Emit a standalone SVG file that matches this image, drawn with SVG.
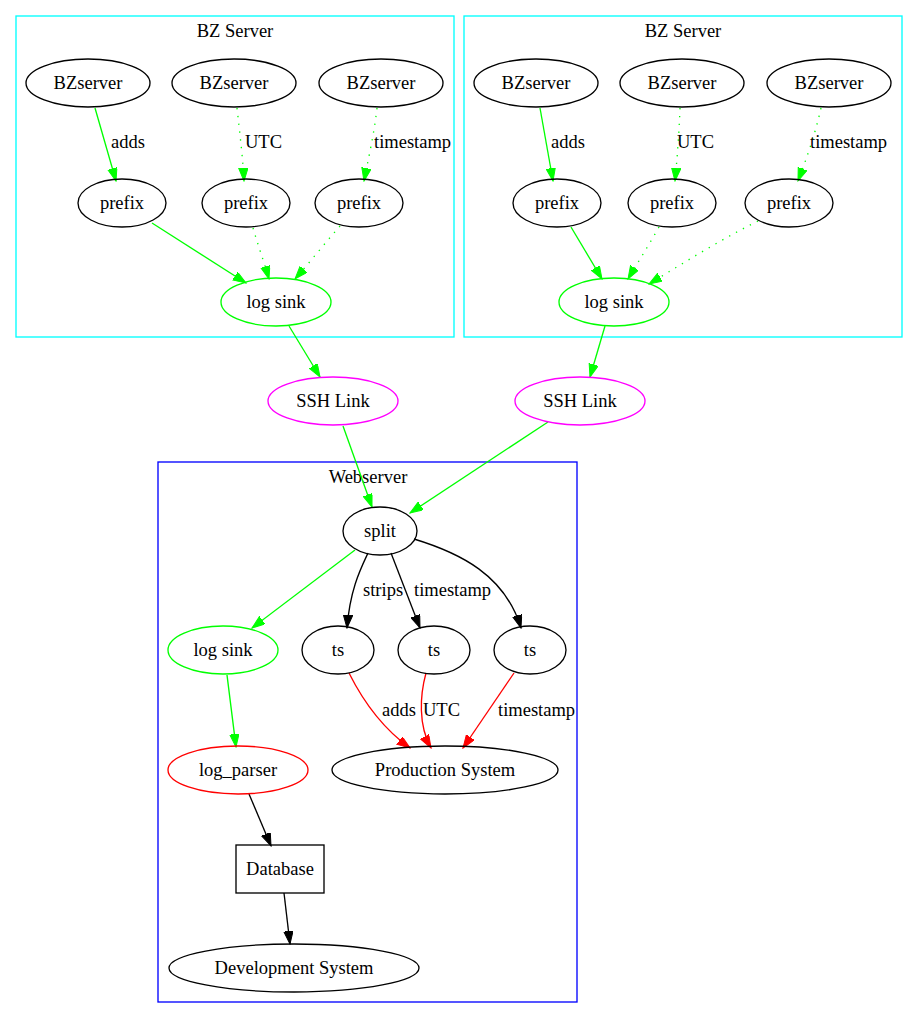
<svg xmlns="http://www.w3.org/2000/svg" width="917" height="1029" viewBox="0 0 917 1029">
<style>
text{font-family:"Liberation Serif","Times New Roman",serif;font-size:18.5px;fill:#000}
.c{text-anchor:middle}
.n{fill:none;stroke:#000;stroke-width:1.33}
.e{fill:none;stroke-width:1.33}
.g{stroke:#00ff00}
.k{stroke:#000}
.r{stroke:#ff0000}
.d{stroke-dasharray:1.33,6.5}
</style>
<defs>
<marker id="ag" markerUnits="userSpaceOnUse" markerWidth="14" markerHeight="10" refX="13" refY="4.7" orient="auto"><path d="M0,0 L13,4.7 L0,9.4 z" fill="#00ff00" stroke="#00ff00" stroke-width="1"/></marker>
<marker id="ak" markerUnits="userSpaceOnUse" markerWidth="14" markerHeight="10" refX="13" refY="4.7" orient="auto"><path d="M0,0 L13,4.7 L0,9.4 z" fill="#000" stroke="#000" stroke-width="1"/></marker>
<marker id="ar" markerUnits="userSpaceOnUse" markerWidth="14" markerHeight="10" refX="13" refY="4.7" orient="auto"><path d="M0,0 L13,4.7 L0,9.4 z" fill="#ff0000" stroke="#ff0000" stroke-width="1"/></marker>
</defs>
<rect width="917" height="1029" fill="#fff"/>
<g id="cluster_bz1"><rect x="16" y="16" width="438" height="321" fill="none" stroke="#00ffff" stroke-width="1.33"/><text class="c" x="235" y="37">BZ Server</text></g>
<g id="cluster_bz2"><rect x="464" y="16" width="438" height="321" fill="none" stroke="#00ffff" stroke-width="1.33"/><text class="c" x="683" y="37">BZ Server</text></g>
<g id="cluster_web"><rect x="158" y="462" width="419" height="540" fill="none" stroke="#0000ff" stroke-width="1.33"/><text class="c" x="368" y="483">Webserver</text></g>
<g id="connectors">
<path class="e g" d="M95,108 L116,181" marker-end="url(#ag)"/>
<path class="e g d" d="M237,108 C240,135 243,160 244,181" marker-end="url(#ag)"/>
<path class="e g d" d="M377,108 C374,135 368,160 364,181" marker-end="url(#ag)"/>
<path class="e g" d="M152,223 L246,283" marker-end="url(#ag)"/>
<path class="e g d" d="M253,228 C258,245 264,262 269,279" marker-end="url(#ag)"/>
<path class="e g d" d="M340,226 C325,243 310,262 295,279" marker-end="url(#ag)"/>
<path class="e g" d="M540,108 L553,181" marker-end="url(#ag)"/>
<path class="e g d" d="M680,108 C679,135 677,160 675,181" marker-end="url(#ag)"/>
<path class="e g d" d="M821,108 C815,135 806,160 798,181" marker-end="url(#ag)"/>
<path class="e g" d="M571,227 L602,279" marker-end="url(#ag)"/>
<path class="e g d" d="M659,227 C649,245 638,262 628,279" marker-end="url(#ag)"/>
<path class="e g d" d="M758,221 C720,240 685,262 649,284" marker-end="url(#ag)"/>
<path class="e g" d="M289,326 L320,377" marker-end="url(#ag)"/>
<path class="e g" d="M605,326 L590,377" marker-end="url(#ag)"/>
<path class="e g" d="M343,426 L372,507" marker-end="url(#ag)"/>
<path class="e g" d="M548,422 L410,513" marker-end="url(#ag)"/>
<path class="e g" d="M355,550 L252,628" marker-end="url(#ag)"/>
<path class="e k" d="M368,553 C360,570 350,590 347,628" marker-end="url(#ak)"/>
<path class="e k" d="M391,553 L420,628" marker-end="url(#ak)"/>
<path class="e k" d="M414,539 C460,553 505,575 521,628" marker-end="url(#ak)"/>
<path class="e r" d="M349,673 C365,705 385,730 410,748" marker-end="url(#ar)"/>
<path class="e r" d="M426,673 C420,695 418,725 431,748" marker-end="url(#ar)"/>
<path class="e r" d="M514,673 L463,748" marker-end="url(#ar)"/>
<path class="e g" d="M227,675 L236,747" marker-end="url(#ag)"/>
<path class="e k" d="M249,794 L271,846" marker-end="url(#ak)"/>
<path class="e k" d="M284,893 L290,944" marker-end="url(#ak)"/>
<text x="111" y="148">adds</text>
<text x="245" y="148">UTC</text>
<text x="374" y="148">timestamp</text>
<text x="551" y="148">adds</text>
<text x="677" y="148">UTC</text>
<text x="810" y="148">timestamp</text>
<text x="363" y="596">strips</text>
<text x="414" y="596">timestamp</text>
<text x="382" y="716">adds</text>
<text x="423" y="716">UTC</text>
<text x="498" y="716">timestamp</text>
</g>
<g id="bz1_s1"><ellipse class="n" cx="88" cy="83" rx="62" ry="24"/><text class="c" x="88" y="89">BZserver</text></g>
<g id="bz1_s2"><ellipse class="n" cx="234" cy="83" rx="62" ry="24"/><text class="c" x="234" y="89">BZserver</text></g>
<g id="bz1_s3"><ellipse class="n" cx="381" cy="83" rx="62" ry="24"/><text class="c" x="381" y="89">BZserver</text></g>
<g id="bz1_p1"><ellipse class="n" cx="122" cy="203" rx="44" ry="24"/><text class="c" x="122" y="209">prefix</text></g>
<g id="bz1_p2"><ellipse class="n" cx="246" cy="203" rx="44" ry="24"/><text class="c" x="246" y="209">prefix</text></g>
<g id="bz1_p3"><ellipse class="n" cx="359" cy="203" rx="44" ry="24"/><text class="c" x="359" y="209">prefix</text></g>
<g id="bz1_sink"><ellipse class="n" style="stroke:#00ff00" cx="276" cy="302" rx="55" ry="24"/><text class="c" x="276" y="308">log sink</text></g>
<g id="bz2_s1"><ellipse class="n" cx="536" cy="83" rx="62" ry="24"/><text class="c" x="536" y="89">BZserver</text></g>
<g id="bz2_s2"><ellipse class="n" cx="682" cy="83" rx="62" ry="24"/><text class="c" x="682" y="89">BZserver</text></g>
<g id="bz2_s3"><ellipse class="n" cx="829" cy="83" rx="62" ry="24"/><text class="c" x="829" y="89">BZserver</text></g>
<g id="bz2_p1"><ellipse class="n" cx="557" cy="203" rx="44" ry="24"/><text class="c" x="557" y="209">prefix</text></g>
<g id="bz2_p2"><ellipse class="n" cx="672" cy="203" rx="44" ry="24"/><text class="c" x="672" y="209">prefix</text></g>
<g id="bz2_p3"><ellipse class="n" cx="789" cy="203" rx="44" ry="24"/><text class="c" x="789" y="209">prefix</text></g>
<g id="bz2_sink"><ellipse class="n" style="stroke:#00ff00" cx="614" cy="302" rx="55" ry="24"/><text class="c" x="614" y="308">log sink</text></g>
<g id="ssh1"><ellipse class="n" style="stroke:#ff00ff" cx="333" cy="401" rx="65" ry="24"/><text class="c" x="333" y="407">SSH Link</text></g>
<g id="ssh2"><ellipse class="n" style="stroke:#ff00ff" cx="580" cy="401" rx="65" ry="24"/><text class="c" x="580" y="407">SSH Link</text></g>
<g id="split"><ellipse class="n" cx="380" cy="531" rx="37" ry="24"/><text class="c" x="380" y="537">split</text></g>
<g id="web_sink"><ellipse class="n" style="stroke:#00ff00" cx="223" cy="650" rx="55" ry="24"/><text class="c" x="223" y="656">log sink</text></g>
<g id="ts1"><ellipse class="n" cx="338" cy="650" rx="36" ry="24"/><text class="c" x="338" y="656">ts</text></g>
<g id="ts2"><ellipse class="n" cx="434" cy="650" rx="36" ry="24"/><text class="c" x="434" y="656">ts</text></g>
<g id="ts3"><ellipse class="n" cx="530" cy="650" rx="36" ry="24"/><text class="c" x="530" y="656">ts</text></g>
<g id="prod"><ellipse class="n" cx="445" cy="770" rx="113" ry="24"/><text class="c" x="445" y="776">Production System</text></g>
<g id="log_parser"><ellipse class="n" style="stroke:#ff0000" cx="238" cy="770" rx="70" ry="24"/><text class="c" x="238" y="776">log_parser</text></g>
<g id="database"><rect class="n" x="236" y="845" width="88" height="48"/><text class="c" x="280" y="875">Database</text></g>
<g id="dev"><ellipse class="n" cx="294" cy="968" rx="125" ry="24"/><text class="c" x="294" y="974">Development System</text></g>
</svg>
